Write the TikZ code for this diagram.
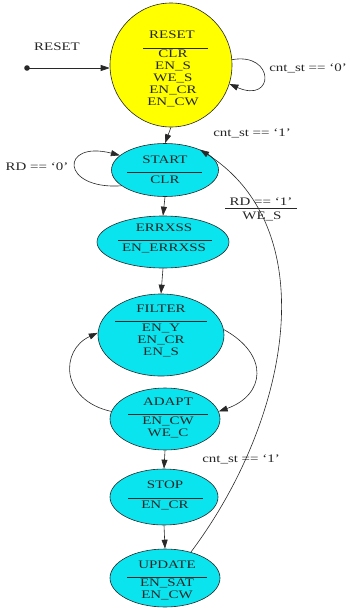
\documentclass[tikz,border=0pt]{standalone}
\usepackage{fontspec}
\setmainfont{Liberation Serif}
\usetikzlibrary{arrows.meta,shapes.geometric}
\definecolor{stateyellow}{RGB}{255,255,0}
\definecolor{statecyan}{RGB}{10,228,238}
\definecolor{inkline}{RGB}{40,40,40}
\newcommand\wtxt[1]{\scalebox{1.3}[1]{#1}}
\tikzset{
  fsm/.style={ellipse, draw=inkline, line width=0.6pt, inner sep=0pt},
  yellowstate/.style={fsm, fill=stateyellow},
  cyanstate/.style={fsm, fill=statecyan},
  txt/.style={font=\fontsize{11.5}{12}\selectfont, text=black!85, inner sep=0pt},
  sep/.style={draw=inkline, line width=0.6pt},
  edge/.style={draw=inkline, line width=0.6pt, -{Triangle[length=9pt,width=6pt]}},
}
\begin{document}
\begin{tikzpicture}[x=1pt,y=-1pt]
\useasboundingbox (0,0) rectangle (349,608);

% ---- states ----
\node[yellowstate, minimum width=122pt, minimum height=124pt] (reset) at (171,65) {};
\node[cyanstate, minimum width=107pt, minimum height=53pt] (start) at (165,170) {};
\node[cyanstate, minimum width=132pt, minimum height=52pt] (errxss) at (163,242) {};
\node[cyanstate, minimum width=126pt, minimum height=82pt] (filter) at (161,335) {};
\node[cyanstate, minimum width=110pt, minimum height=62pt] (adapt) at (165,419) {};
\node[cyanstate, minimum width=108pt, minimum height=56pt] (stop) at (164,497) {};
\node[cyanstate, minimum width=110pt, minimum height=58pt] (update) at (165,578) {};

% ---- state texts ----
\node[txt] (resetT) at (172,35) {\wtxt{RESET}};
\draw[sep] (143,48) -- (208,48);
\node[txt] (resetA) at (173,54) {\wtxt{CLR}};
\node[txt] (resetB) at (173,66) {\wtxt{EN\_S}};
\node[txt] (resetC) at (173,78) {\wtxt{WE\_S}};
\node[txt] (resetD) at (173,90) {\wtxt{EN\_CR}};
\node[txt] (resetE) at (173,102) {\wtxt{EN\_CW}};

\node[txt] (startT) at (165,160) {\wtxt{START}};
\draw[sep] (127,172) -- (202,172);
\node[txt] (startA) at (165,180) {\wtxt{CLR}};

\node[txt] (errxssT) at (164,228) {\wtxt{ERRXSS}};
\draw[sep] (118,240) -- (212,240);
\node[txt] (errxssA) at (164,248) {\wtxt{EN\_ERRXSS}};

\node[txt] (filterT) at (161,309) {\wtxt{FILTER}};
\draw[sep] (115,321) -- (207,321);
\node[txt] (filterA) at (161,328) {\wtxt{EN\_Y}};
\node[txt] (filterB) at (161,340) {\wtxt{EN\_CR}};
\node[txt] (filterC) at (161,352) {\wtxt{EN\_S}};

\node[txt] (adaptT) at (168,402) {\wtxt{ADAPT}};
\draw[sep] (128,414) -- (208,414);
\node[txt] (adaptA) at (168,421) {\wtxt{EN\_CW}};
\node[txt] (adaptB) at (168,433) {\wtxt{WE\_C}};

\node[txt] (stopT) at (165,485) {\wtxt{STOP}};
\draw[sep] (128,498) -- (203,498);
\node[txt] (stopA) at (165,505) {\wtxt{EN\_CR}};

\node[txt] (updateT) at (167,565) {\wtxt{UPDATE}};
\draw[sep] (127,577) -- (207,577);
\node[txt] (updateA) at (167,583) {\wtxt{EN\_SAT}};
\node[txt] (updateB) at (167,595) {\wtxt{EN\_CW}};

% ---- initial transition ----
\node[txt] (initlbl) at (57,47) {\wtxt{RESET}};
\fill[inkline] (27,68) circle (2.8pt);
\coordinate (initdot) at (27,68);
\draw[edge] (initdot) -- (reset.west |- initdot);

% ---- transitions ----
\draw[edge] (reset.5) .. controls (275,52) and (275,104) .. (reset.-18);
\node[txt] (lblA) at (308,68) {\wtxt{cnt\_st == `0'}};

\draw[edge] (reset.south) -- (start.north);
\node[txt] (lblB) at (252,133) {\wtxt{cnt\_st == `1'}};

\draw[edge] (start.200) .. controls (60,190) and (60,140) .. (start.162);
\node[txt] (lblC) at (37,167) {\wtxt{RD == `0'}};

\draw[edge] (start.south) -- (errxss.north);
\draw[edge] (errxss.south) -- (filter.north);

\draw[edge] (filter.5) .. controls (270,355) and (265,395) .. (adapt.8);
\draw[edge] (adapt.172) .. controls (60,400) and (60,350) .. (filter.178);

\draw[edge] (adapt.south) -- (stop.north);
\draw[edge] (stop.south) -- (update.north);

\draw[edge] (update.45) .. controls (290,420) and (325,230) .. (start.30);
\node[txt] (lblD) at (261,202) {\wtxt{RD == `1'}};
\draw[sep] (225,208) -- (297,208);
\node[txt] (lblE) at (262,216) {\wtxt{WE\_S}};
\node[txt] (lblF) at (241,459) {\wtxt{cnt\_st == `1'}};

\end{tikzpicture}
\end{document}
